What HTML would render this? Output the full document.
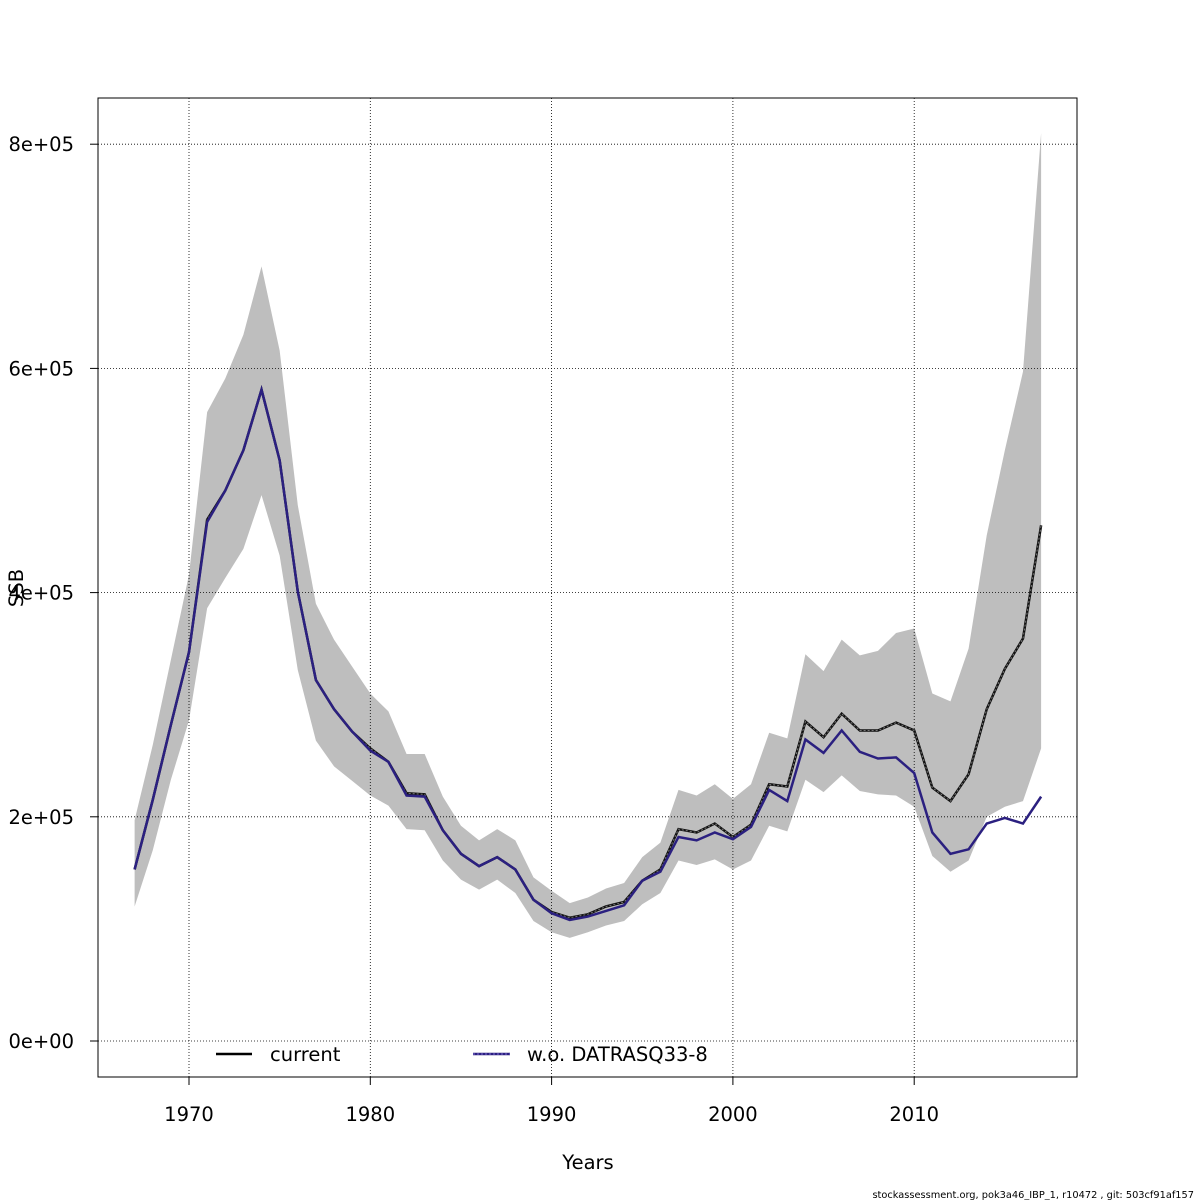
<!DOCTYPE html>
<html><head><meta charset="utf-8"><style>
body{margin:0;background:#fff}
svg{display:block;font-family:"DejaVu Sans","Liberation Sans",sans-serif}
</style></head><body>
<svg id="chart" width="1200" height="1200">
<rect x="0" y="0" width="1200" height="1200" fill="#fff"/>
<g id="band"></g><g id="grid"></g><g id="lines"></g><g id="axes"></g>
<g>
<line x1="216" y1="1054" x2="252" y2="1054" stroke="#000" stroke-width="2.5"/>
<text x="270" y="1061" font-size="19.5">current</text>
<line x1="473" y1="1054" x2="510" y2="1054" stroke="#2b2080" stroke-width="2.5"/>
<line x1="473" y1="1054" x2="510" y2="1054" stroke="#8070d0" stroke-width="1" stroke-dasharray="2,2"/>
<text x="527" y="1061" font-size="19.5">w.o. DATRASQ33-8</text>
</g>
<text x="588" y="1169" font-size="19.5" text-anchor="middle">Years</text>
<text transform="translate(23,588) rotate(-90)" font-size="19.5" text-anchor="middle">SSB</text>
<text x="1194" y="1198" font-size="9.8" text-anchor="end">stockassessment.org, pok3a46_IBP_1, r10472 , git: 503cf91af157</text>
</svg>
<script>
const years=[];for(let y=1967;y<=2017;y++)years.push(y);
const current=[153,215,282,347,465,491,527,581,518,401,322,296,276,261,249,221,220,188,167,156,164,153,126,115,110,113,120,124,143,153,189,186,194,182,193,229,227,285,271,292,277,277,284,277,226,214,238,296,332,359,460];
const woDatras=[153,215,282,347,463,491,527,581,518,401,322,296,276,259,249,219,218,188,167,156,164,153,126,114,108,111,116,121,143,151,182,179,186,180,191,224,214,269,257,277,258,252,253,239,186,167,171,194,199,194,218];
const upper=[197,264,340,416,561,591,630,691,616,478,390,358,334,310,294,256,256,218,192,179,189,179,146,134,123,128,136,141,164,177,224,219,229,216,229,275,270,345,330,358,344,348,364,368,310,303,350,451,527,597,810];
const lower=[120,170,233,286,386,413,439,487,433,331,268,245,232,219,210,189,188,161,144,135,144,132,107,97,92,97,103,107,122,132,161,157,162,153,161,192,187,233,222,237,223,220,219,209,165,151,161,200,209,214,261];
const xTicks=[1970,1980,1990,2000,2010];
const yTicks=[0,200,400,600,800];
const yTickLabels=["0e+00","2e+05","4e+05","6e+05","8e+05"];
const X=y=>189+(y-1970)*18.13;
const Y=v=>1041-v*1.121;
const NS="http://www.w3.org/2000/svg";
function mk(parent,tag,attrs){const e=document.createElementNS(NS,tag);for(const k in attrs)e.setAttribute(k,attrs[k]);document.getElementById(parent).appendChild(e);return e;}
let pts=years.map((y,i)=>X(y)+","+Y(upper[i])).concat(years.map((y,i)=>X(y)+","+Y(lower[i])).reverse());
const band=mk("band","polygon",{points:pts.join(" "),fill:"#bebebe"});


xTicks.forEach(t=>{
 const g=mk("grid","line",{x1:X(t),x2:X(t),y1:98,y2:1077,stroke:"#000","stroke-width":0.8,"stroke-dasharray":"1,2"});
 
 
 const tk=mk("axes","line",{x1:X(t),x2:X(t),y1:1077,y2:1085,stroke:"#000"});
 
 
 const tl=mk("axes","text",{x:X(t),y:1121,"font-size":19.5,"text-anchor":"middle"});tl.textContent=t;
 
 
});
yTicks.forEach((t,i)=>{
 const g=mk("grid","line",{x1:98,x2:1077,y1:Y(t),y2:Y(t),stroke:"#000","stroke-width":0.8,"stroke-dasharray":"1,2"});
 
 
 const tk=mk("axes","line",{x1:90,x2:98,y1:Y(t),y2:Y(t),stroke:"#000"});
 
 
 const tl=mk("axes","text",{x:74,y:Y(t)+7,"font-size":19.5,"text-anchor":"end"});tl.textContent=yTickLabels[i];
 
 
});
const frame=mk("axes","rect",{x:98,y:98,width:979,height:979,fill:"none",stroke:"#000","stroke-width":1});


const cp=years.map((y,i)=>X(y)+","+Y(current[i])).join(" ");
const c1=mk("lines","polyline",{points:cp,fill:"none",stroke:"#111","stroke-width":2.5});


const c2=mk("lines","polyline",{points:cp,fill:"none",stroke:"#777","stroke-width":1,"stroke-dasharray":"2,2"});


const bp=years.map((y,i)=>X(y)+","+Y(woDatras[i])).join(" ");
const b1=mk("lines","polyline",{points:bp,fill:"none",stroke:"#2b2080","stroke-width":2.5});


</script>
</body></html>
